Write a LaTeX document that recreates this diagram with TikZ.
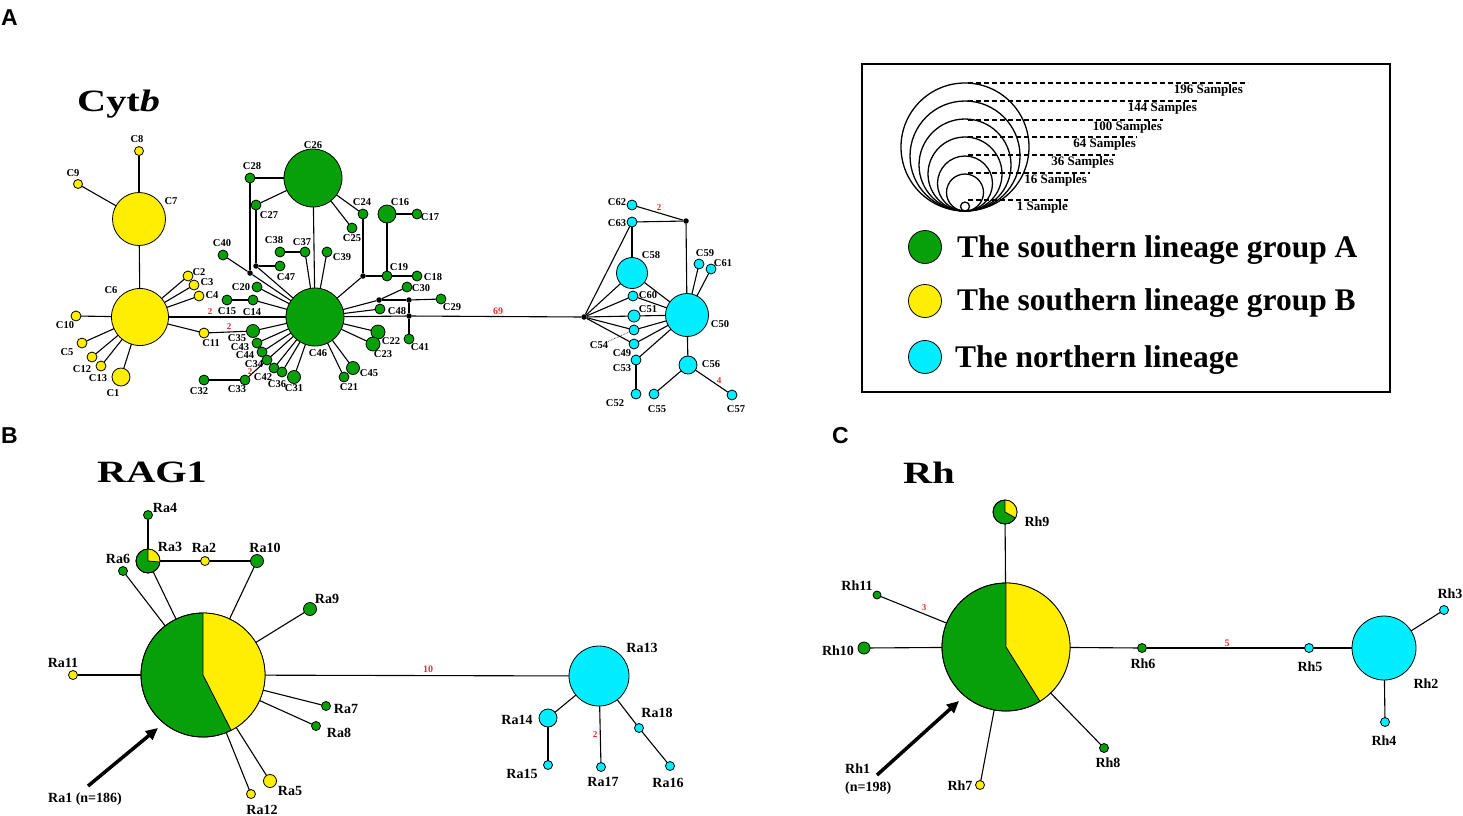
\documentclass[tikz,border=0pt]{standalone}
\usepackage{fontspec}
\setmainfont{Liberation Serif}
\newfontfamily\panelfont{Liberation Sans}
\newfontfamily\widefont[FakeStretch=1.3]{Liberation Serif}
\usetikzlibrary{arrows.meta}
\definecolor{cgreen}{RGB}{8,160,8}
\definecolor{cyellow}{RGB}{255,238,0}
\definecolor{ccyan}{RGB}{0,238,255}
\definecolor{cred}{RGB}{255,40,40}
\newcommand\pienode[5]{%
  \node[hap,fill=cgreen,minimum size={2*#4*1pt}] (#1) at (#2,#3) {};
  \fill[cyellow] (#1.center) -- ++(-90:#4) arc[start angle=-90,end angle=#5,radius=#4] -- cycle;
  \draw[line width=0.8pt] (#1.center) ++(-90:#4) -- (#1.center) -- ++(#5:#4);
  \draw[line width=0.8pt] (#1.center) circle[radius=#4];
}
\begin{document}
\begin{tikzpicture}[x=1pt,y=-1pt,
  hap/.style={circle,draw=black,line width=0.8pt,inner sep=0pt,outer sep=0pt},
  gA/.style={hap,fill=cgreen}, gB/.style={hap,fill=cyellow}, gN/.style={hap,fill=ccyan},
  jdot/.style={circle,fill=black,inner sep=0pt,minimum size=5.5pt},
  ln/.style={line width=1.1pt},
  lc/.style={font=\bfseries\fontsize{10.5}{10.5}\selectfont,inner sep=0pt},
  lr/.style={font=\bfseries\fontsize{14}{14}\selectfont,inner sep=0pt},
  nm/.style={text=cred,font=\bfseries\fontsize{9}{9}\selectfont,inner sep=0pt},
  nmb/.style={text=cred,font=\bfseries\fontsize{10}{10}\selectfont,inner sep=0pt},
  ttl/.style={font=\widefont\bfseries\fontsize{31}{31}\selectfont,inner sep=0pt,anchor=base west},
  pnl/.style={font=\panelfont\bfseries\fontsize{23}{23}\selectfont,inner sep=0pt,anchor=base west},
  leg/.style={font=\bfseries\fontsize{31.5}{31.5}\selectfont,inner sep=0pt,anchor=base west},
  smp/.style={font=\bfseries\fontsize{13}{13}\selectfont,inner sep=0pt,anchor=east},
  dsh/.style={line width=1.3pt,dash pattern=on 5pt off 3pt},
  arr/.style={line width=3.5pt,-{Triangle[length=12pt,width=11pt]}},
]
\useasboundingbox (0,0) rectangle (1463,815);
\fill[white] (0,0) rectangle (1463,815);

% ---------- panel letters and titles ----------
\node[pnl] (pA) at (1,25) {A};
\node[pnl] (pB) at (1,443) {B};
\node[pnl] (pC) at (832,443) {C};
\node[ttl] (tC) at (77,111) {Cyt\textit{b}};
\node[ttl] (tR) at (97,482) {RAG1};
\node[ttl] (tH) at (903,483) {Rh};

% ================= Cytb =================
\foreach \n/\x/\y/\d in {C8/139/151/9, C9/78/184/9, C7/139/219/53, C6/140/317/57,
  C2/188/276/10, C3/194/285/10, C4/199/296/10, C10/76/316/10, C5/82/343/10,
  C12/92/357/10, C13/101/366/10, C1/121/377/18, C11/204/333/10}
  \node[gB,minimum size={\d*1pt}] (\n) at (\x,\y) {};
\foreach \n/\x/\y/\d in {C46/315/317/58, C26/313/178/58, C28/250/178/10, C27/256/205/10,
  C40/223/255/10, C47/280/266/10, C38/280/252/10, C37/305/252/10, C39/327/252/10,
  C20/257/287/10, C15/227/300/10, C14/253/300/10, C35/253/331/13, C43/257/343/10,
  C44/262/352/10, C34/267/360/10, C42/274/368/10, C36/282/372/10, C31/294/377/13,
  C33/245/380/10, C32/204/380/10, C24/363/214/10, C25/352/228/10, C16/387/214/18,
  C17/417/214/10, C19/387/276/10, C18/417/276/10, C30/407/287/10, C29/441/299/10,
  C41/409/339/10, C48/380/309/10, C22/378/332/14, C23/373/344/14, C45/353/368/13,
  C21/344/377/10}
  \node[gA,minimum size={\d*1pt}] (\n) at (\x,\y) {};
\foreach \n/\x/\y/\d in {C62/632/205/10, C63/632/222/10, C58/632/273/31, C60/633/296/10,
  C51/634/316/12, C54/634/330/10, C49/634/344/10, C53/636/360/10, C52/636/394/10,
  C50/687/315/43, C59/699/264/10, C61/711/269/10, C56/688/365/18, C55/654/394/10,
  C57/732/395/10}
  \node[gN,minimum size={\d*1pt}] (\n) at (\x,\y) {};
\foreach \n/\x/\y in {d1/250/273, d2/256/266, d3/363/276, d4/379/300, d5/409/300,
  d6/409/316, hub/584/317, dT/686/221}
  \node[jdot] (\n) at (\x,\y) {};

\foreach \a/\b in {C7/C8, C7/C9, C6/C7, C6/C2, C6/C3, C6/C4, C6/C10, C6/C5, C6/C12,
  C6/C13, C6/C1, C6/C11, C6/C46, C11/C35, C46/C35, C46/C43, C46/C44, C46/C34, C46/C42,
  C46/C36, C46/C31, C33/C32, C33/C34, C46/C14, C14/C15, C46/C20, C46/d1, d1/C40,
  d1/C28, C28/C26, C46/d2, d2/C27, d2/C47, C27/C26, C37/C38, C46/C37, C46/C39,
  C46/C26, C26/C24, C26/C25, C24/d3, C46/d3, d3/C19, C19/C18, C19/C16, C16/C17,
  C46/d4, d4/C30, d4/d5, d5/C29, d5/d6, d6/C41, C46/C48, C46/d6, d6/hub,
  C46/C22, C46/C23, C46/C45, C46/C21,
  hub/C63, hub/C58, hub/C60, hub/C51, hub/C54, hub/C49, C63/C58, C63/dT, C62/dT,
  dT/C50, C50/C58, C50/C60, C50/C51, C50/C54, C50/C49, C50/C53, C53/C52, C50/C59,
  C50/C61, C50/C56, C56/C55, C56/C57}
  \draw[ln] (\a) -- (\b);

\foreach \t/\x/\y in {C8/137/139, C9/73/173, C7/171/201, C6/111/290, C2/199/272,
  C3/207/282, C4/212/295, C10/65/325, C5/67/352, C12/82/369, C13/98/378, C1/113/393,
  C11/211/343, C26/313/145, C28/252/166, C27/269/215, C40/222/243, C38/274/240,
  C37/302/242, C39/342/257, C47/286/277, C20/241/287, C15/227/311, C14/252/312,
  C35/237/338.3, C43/240/346.8, C44/245/355.3, C34/254/363.8, C42/263/377, C36/277/384,
  C31/294/388, C33/237/389, C32/199/391, C46/318/353, C24/362/202, C25/352/238,
  C16/400/202, C17/430/217, C19/399/267, C18/433/277, C30/421/288, C48/397/311,
  C29/452/307, C41/420/347, C22/391/341, C23/383/354, C45/369/373, C21/349/387,
  C62/617/202, C63/617/223, C58/651/255, C60/648/295, C51/648/309, C54/599/345,
  C49/622/353, C53/622/368, C52/615/403, C50/720/324, C59/705/253, C61/723/263,
  C56/711/364, C55/657/409, C57/736/409}
  \node[lc] (l\t) at (\x,\y) {\t};
\draw[densely dotted,line width=0.6pt] (lC54.north east) -- (C54);

\node[nm] (r1) at (210,312) {2};
\node[nm] (r2) at (229,327) {2};
\node[nm] (r3) at (250,372) {2};
\node[nmb] (r4) at (498,311) {69};
\node[nm] (r5) at (659,208) {2};
\node[nm] (r6) at (719,381) {4};

% ================= Legend =================
\draw[line width=1.8pt] (862,64) rectangle (1390,392);
\foreach \r/\n in {64/s196,55/s144,46/s100,37/s64,27.5/s36,18.5/s16,4.5/s1}
  \node[hap,line width=1.3pt,fill=none,minimum size={2*\r*1pt}] (\n) at (965,{211-\r}) {};
\foreach \y/\e/\t/\f in {83/1248/196 Samples/1243, 101/1197/144 Samples/1197,
  120/1163/100 Samples/1162, 137/1137/64 Samples/1136, 155/1115/36 Samples/1114,
  173/1090/16 Samples/1087, 200/1068/1 Sample/1068}
  {\draw[dsh] (968,\y) -- (\e,\y);
   \node[smp] (lg\y) at (\f,\y+7.5) {\t};}
\node[gA,minimum size=33pt] (LgA) at (925,247) {};
\node[gB,minimum size=33pt] (LgB) at (925,301) {};
\node[gN,minimum size=33pt] (LgN) at (925,357) {};
\node[leg] (tgA) at (957,257) {The southern lineage group A};
\node[leg] (tgB) at (957,310) {The southern lineage group B};
\node[leg] (tgN) at (955,367) {The northern lineage};

% ================= RAG1 =================
\pienode{Ra1}{203}{675}{62}{63}
\pienode{Ra3}{148}{561}{12}{5}
\foreach \n/\x/\y/\d/\s in {Ra4/148/515/9/gA, Ra2/205/561/9/gB, Ra10/257/561/13/gA,
  Ra6/123/571/9/gA, Ra9/310/609/13/gA, Ra11/73/675/9/gB, Ra7/326/706/9/gA,
  Ra8/316/726/9/gA, Ra5/270/781/13/gB, Ra12/251/794/9/gB, Ra13/599/676/60/gN,
  Ra14/548/718/18/gN, Ra15/548/765/9/gN, Ra17/601/767/9/gN, Ra18/639/728/9/gN,
  Ra16/670/766/9/gN}
  \node[\s,minimum size={\d*1pt}] (\n) at (\x,\y) {};
\foreach \a/\b in {Ra1/Ra11, Ra1/Ra6, Ra1/Ra3, Ra3/Ra4, Ra3/Ra2, Ra2/Ra10, Ra10/Ra1,
  Ra1/Ra9, Ra1/Ra7, Ra1/Ra8, Ra1/Ra5, Ra1/Ra12, Ra1/Ra13, Ra13/Ra14, Ra14/Ra15,
  Ra13/Ra17, Ra13/Ra18, Ra18/Ra16}
  \draw[ln] (\a) -- (\b);
\foreach \t/\x/\y in {Ra4/165/508, Ra3/170/547, Ra2/204/548, Ra10/265/548, Ra6/118/559,
  Ra9/327/599, Ra11/63/663, Ra7/346/709, Ra8/339/733, Ra5/290/791, Ra12/262/810,
  Ra13/642/648, Ra14/517/720, Ra15/522/774, Ra17/603/782, Ra18/657/713, Ra16/668/783}
  \node[lr] (l\t) at (\x,\y) {\t};
\node[lr] (lRa1) at (85,799) {Ra1 (n=186)};
\node[nmb] (r7) at (428,669) {10};
\node[nm] (r8) at (595,735) {2};
\coordinate (aRt) at (88,786);
\coordinate (aRh) at (158,728);
\draw[arr] (aRt) -- (aRh);

% ================= Rh =================
\pienode{Rh1}{1006}{647}{64}{58}
\pienode{Rh9}{1005}{512}{12}{30}
\foreach \n/\x/\y/\d/\s in {Rh11/877/595/8/gA, Rh10/864/648/12/gA, Rh7/980/785/9/gB,
  Rh8/1104/748/9/gA, Rh6/1142/648/9/gA, Rh5/1309/648/9/gN, Rh2/1384/648/64/gN,
  Rh3/1444/610/9/gN, Rh4/1385/722/9/gN}
  \node[\s,minimum size={\d*1pt}] (\n) at (\x,\y) {};
\foreach \a/\b in {Rh1/Rh9, Rh1/Rh11, Rh1/Rh10, Rh1/Rh7, Rh1/Rh8, Rh1/Rh6, Rh6/Rh5,
  Rh5/Rh2, Rh2/Rh3, Rh2/Rh4}
  \draw[ln] (\a) -- (\b);
\foreach \t/\x/\y in {Rh9/1037/522, Rh11/857/586, Rh10/838/651, Rh7/960/786,
  Rh8/1108/763, Rh6/1143/664, Rh5/1310/667, Rh2/1426/684, Rh3/1450/594, Rh4/1384/741}
  \node[lr] (l\t) at (\x,\y) {\t};
\node[lr,align=left,anchor=north west,font=\bfseries\fontsize{14}{18}\selectfont] (lRh1) at (845,764) {Rh1\\(n=198)};
\node[nm] (r9) at (924,608) {3};
\node[nmb] (r10) at (1227,643) {5};
\coordinate (aHt) at (877,775);
\coordinate (aHh) at (959,701);
\draw[arr] (aHt) -- (aHh);
\end{tikzpicture}
\end{document}
